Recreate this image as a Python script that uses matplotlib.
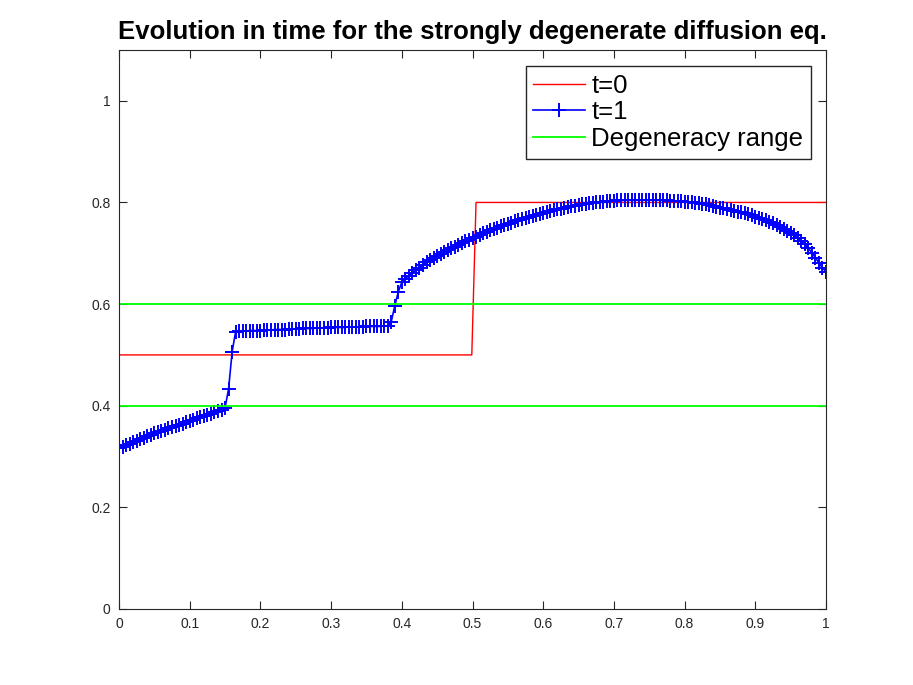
import numpy as np
import matplotlib
matplotlib.use('Agg')
import matplotlib.pyplot as plt

plt.rcParams['font.family'] = ['Liberation Sans', 'DejaVu Sans']

# ---- data ----
x_t0 = [0.0, 0.499, 0.505, 1.0]
u_t0 = [0.5, 0.5, 0.8, 0.8]

x_t1 = np.linspace(0.0, 1.0, 201)
u_t1 = [
    # 0.000 - 0.150
    0.316, 0.319, 0.322, 0.325, 0.328, 0.331, 0.334, 0.337, 0.340, 0.343,
    0.346, 0.348, 0.351, 0.353, 0.356, 0.358, 0.361, 0.363, 0.365, 0.368,
    0.370, 0.372, 0.375, 0.377, 0.379, 0.382, 0.384, 0.387, 0.389, 0.392,
    0.396,
    # 0.155 - 0.165 jump
    0.433, 0.506, 0.546,
    # 0.170 - 0.380 plateau
    0.547, 0.547, 0.547, 0.548, 0.548, 0.548, 0.548, 0.549, 0.549, 0.549,
    0.550, 0.550, 0.550, 0.550, 0.551, 0.551, 0.551, 0.551, 0.552, 0.552,
    0.552, 0.552, 0.553, 0.553, 0.553, 0.553, 0.554, 0.554, 0.554, 0.554,
    0.554, 0.555, 0.555, 0.555, 0.555, 0.555, 0.556, 0.556, 0.556, 0.556,
    0.556, 0.557, 0.557,
    # 0.385 - 0.395 jump
    0.565, 0.596, 0.624,
    # 0.400 - 1.000
    0.643, 0.650, 0.656, 0.662, 0.667, 0.672, 0.677, 0.682, 0.686, 0.690,
    0.695, 0.699, 0.703, 0.706, 0.710, 0.713, 0.717, 0.720, 0.724, 0.727,
    0.730, 0.733, 0.736, 0.739, 0.742, 0.745, 0.747, 0.750, 0.753, 0.755,
    0.758, 0.760, 0.763, 0.765, 0.767, 0.769, 0.772, 0.774, 0.776, 0.778,
    0.780, 0.782, 0.783, 0.785, 0.787, 0.788, 0.790, 0.791, 0.793, 0.794,
    0.795, 0.796, 0.797, 0.798, 0.799, 0.800, 0.801, 0.801, 0.802, 0.803,
    0.803, 0.804, 0.804, 0.804, 0.805, 0.805, 0.805, 0.805, 0.805, 0.805,
    0.805, 0.805, 0.805, 0.804, 0.804, 0.804, 0.803, 0.803, 0.802, 0.802,
    0.801, 0.800, 0.800, 0.799, 0.798, 0.797, 0.796, 0.795, 0.793, 0.792,
    0.790, 0.789, 0.787, 0.786, 0.784, 0.782, 0.781, 0.779, 0.777, 0.775,
    0.772, 0.769, 0.767, 0.765, 0.762, 0.759, 0.755, 0.751, 0.747, 0.743,
    0.739, 0.735, 0.730, 0.724, 0.718, 0.710, 0.701, 0.691, 0.681, 0.671,
    0.664,
]

degen_lo = 0.4
degen_hi = 0.6

x_ticks = [0, 0.1, 0.2, 0.3, 0.4, 0.5, 0.6, 0.7, 0.8, 0.9, 1]
x_labels = ['0', '0.1', '0.2', '0.3', '0.4', '0.5', '0.6', '0.7', '0.8', '0.9', '1']
y_ticks = [0, 0.2, 0.4, 0.6, 0.8, 1]
y_labels = ['0', '0.2', '0.4', '0.6', '0.8', '1']

# ---- figure ----
fig = plt.figure(figsize=(9.13, 6.85), dpi=100)
ax = fig.add_axes([119 / 913, 1 - 609 / 685, 707 / 913, 559 / 685])

ax.plot(x_t0, u_t0, color='red', lw=1.0, label='t=0')
ax.plot(x_t1, u_t1, color='blue', lw=1.2, marker='+', ms=9.5, mew=1.4,
        label='t=1')
ax.axhline(degen_lo, color='#00ff00', lw=1.3, label='Degeneracy range')
ax.axhline(degen_hi, color='#00ff00', lw=1.3)

ax.set_xlim(0, 1)
ax.set_ylim(0, 1.1)
ax.set_xticks(x_ticks)
ax.set_xticklabels(x_labels)
ax.set_yticks(y_ticks)
ax.set_yticklabels(y_labels)

gray = '#262626'
ax.tick_params(direction='in', top=True, right=True, length=5.5, width=0.8,
               labelsize=10, colors=gray, labelcolor=gray, pad=6)
for s in ax.spines.values():
    s.set_color(gray)
    s.set_linewidth(0.8)

ax.set_title('Evolution in time for the strongly degenerate diffusion eq.',
             fontsize=18.5, fontweight='bold', pad=8)

leg = ax.legend(loc='upper right', bbox_to_anchor=(692 / 707, 543 / 559),
                borderaxespad=0, fontsize=18.5, handlelength=2.0,
                handletextpad=0.25, labelspacing=0.1, borderpad=0.3,
                fancybox=False, framealpha=1)
leg.get_frame().set_edgecolor(gray)
leg.get_frame().set_linewidth(1.0)

fig.savefig('out.png', dpi=100)
